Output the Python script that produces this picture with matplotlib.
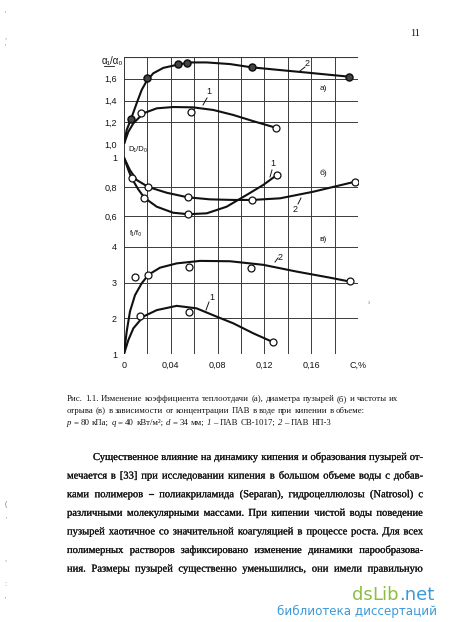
import matplotlib
matplotlib.use('Agg')
import matplotlib.pyplot as plt
from matplotlib.lines import Line2D
import matplotlib.patheffects as pe

W, H = 450, 622

# ---------------- data ----------------
x_ticks = [0, 0.04, 0.08, 0.12, 0.16, 0.20]
x_tick_labels = ['0', '0,04', '0,08', '0,12', '0,16', 'C,%']

a_ticks = [1.0, 1.2, 1.4, 1.6]
a_tick_labels = ['1,0', '1,2', '1,4', '1,6']
b_ticks = [1.0, 0.8, 0.6]
b_tick_labels = ['1', '0,8', '0,6']
c_ticks = [1, 2, 3, 4]
c_tick_labels = ['1', '2', '3', '4']

# panel a) alpha_i/alpha_0
a1_pts_c = [0.0145, 0.057, 0.1296]
a1_pts_v = [1.288, 1.297, 1.15]
a1_line_c = [0, 0.0037, 0.008, 0.0165, 0.028, 0.042, 0.059, 0.0763, 0.0934, 0.1105, 0.1296]
a1_line_v = [1.0, 1.113, 1.19, 1.282, 1.328, 1.34, 1.337, 1.313, 1.267, 1.21, 1.15]

a2_pts_c = [0.006, 0.0194, 0.0459, 0.054, 0.109, 0.1926]
a2_pts_v = [1.23, 1.604, 1.733, 1.742, 1.705, 1.619]
a2_line_c = [0, 0.0023, 0.006, 0.0108, 0.0151, 0.0194, 0.025, 0.0336, 0.046, 0.0564,
             0.0707, 0.0906, 0.109, 0.1333, 0.156, 0.176, 0.1926]
a2_line_v = [1.0, 1.129, 1.23, 1.374, 1.497, 1.58, 1.65, 1.70, 1.73, 1.75,
             1.75, 1.735, 1.705, 1.68, 1.657, 1.636, 1.619]

# panel б) D_i/D_0
b1_pts_c = [0.0066, 0.0174, 0.055, 0.1305]
b1_pts_v = [0.859, 0.727, 0.616, 0.882]
b1_line_c = [0, 0.0037, 0.0066, 0.0122, 0.0174, 0.028, 0.042, 0.055, 0.0707, 0.0877,
             0.1048, 0.119, 0.1295]
b1_line_v = [1.0, 0.916, 0.859, 0.784, 0.727, 0.666, 0.625, 0.615, 0.621, 0.666,
             0.746, 0.814, 0.875]

b2_pts_c = [0.0208, 0.0544, 0.1097, 0.1974]
b2_pts_v = [0.798, 0.730, 0.712, 0.836]
b2_line_c = [0, 0.005, 0.0108, 0.0208, 0.0365, 0.0544, 0.0735, 0.0934, 0.1097, 0.1333,
             0.1618, 0.1974]
b2_line_v = [1.0, 0.916, 0.848, 0.80, 0.761, 0.730, 0.716, 0.712, 0.712, 0.723,
             0.768, 0.836]

# panel в) f_i/f_0
c1_pts_c = [0.0137, 0.0558, 0.1276]
c1_pts_v = [2.07, 2.17, 1.33]
c1_line_c = [0, 0.0037, 0.008, 0.0165, 0.028, 0.045, 0.062, 0.079, 0.0934, 0.1105, 0.1276]
c1_line_v = [1.0, 1.39, 1.72, 2.05, 2.23, 2.35, 2.28, 2.05, 1.86, 1.58, 1.33]

c2_pts_c = [0.0094, 0.0208, 0.0558, 0.1085, 0.193]
c2_pts_v = [3.15, 3.22, 3.45, 3.42, 3.05]
c2_line_c = [0, 0.0023, 0.0051, 0.0094, 0.0151, 0.0208, 0.0308, 0.045, 0.065, 0.0906,
             0.119, 0.1476, 0.176, 0.193]
c2_line_v = [1.0, 1.63, 2.19, 2.65, 2.98, 3.22, 3.42, 3.54, 3.61, 3.60,
             3.50, 3.31, 3.14, 3.03]

caption_lines = [
    "Рис. 1.1. Изменение коэффициента теплоотдачи (а), диаметра пузырей (б) и частоты их",
    "отрыва (в) в зависимости от концентрации ПАВ в воде при кипении в объеме:",
]
caption_line3 = [("p", 'italic'), ("=", 'normal'), ("80", 'normal'), ("кПа;", 'normal'),
                 ("q", 'italic'), ("=", 'normal'), ("40", 'normal'), ("кВт/м²;", 'normal'),
                 ("d", 'italic'), ("=", 'normal'), ("34", 'normal'), ("мм;", 'normal'),
                 ("1", 'italic'), ("–", 'normal'), ("ПАВ", 'normal'), ("СВ-1017;", 'normal'),
                 ("2", 'italic'), ("–", 'normal'), ("ПАВ", 'normal'), ("НП-3", 'normal')]

body_lines = [
    "Существенное влияние на динамику кипения и образования пузырей от-",
    "мечается в [33] при исследовании кипения в большом объеме воды с добав-",
    "ками полимеров – полиакриламида (Separan), гидроцеллюлозы (Natrosol) с",
    "различными молекулярными массами. При кипении чистой воды поведение",
    "пузырей хаотичное со значительной коагуляцией в процессе роста. Для всех",
    "полимерных растворов зафиксировано изменение динамики парообразова-",
    "ния. Размеры пузырей существенно уменьшились, они имели правильную",
]

# ---------------- figure ----------------
fig = plt.figure(figsize=(W / 100, H / 100), dpi=100)
fig.patch.set_facecolor('white')
renderer = fig.canvas.get_renderer()

SANS = ['Liberation Sans', 'DejaVu Sans']
SERIF = ['Liberation Serif', 'DejaVu Serif']
INK = '#141414'
GRID = '#3a3a3a'
SCAN = [pe.withStroke(linewidth=0.15, foreground=INK)]


def P(x, y):
    return (x / W, 1 - y / H)


def rect(x0, y0, x1, y1):
    return [x0 / W, 1 - y1 / H, (x1 - x0) / W, (y1 - y0) / H]


X0, X1 = 124, 358
ax_a = fig.add_axes(rect(X0, 57, X1, 144))
ax_b = fig.add_axes(rect(X0, 144, X1, 232))
ax_c = fig.add_axes(rect(X0, 232, X1, 354))
ax_a.set_ylim(1.0, 1.8)
ax_b.set_ylim(0.494, 1.0925)
ax_c.set_ylim(1.0, 4.42)

for ax in (ax_a, ax_b, ax_c):
    ax.set_xlim(0, 0.20)
    ax.patch.set_alpha(0)
    for s in ax.spines.values():
        s.set_visible(False)
    ax.tick_params(length=0, labelsize=6.5, pad=5, colors=INK)
    for xv in [0.02 * i for i in range(1, 11)]:
        ax.axvline(xv, color=GRID, lw=0.7, zorder=1)
    ax.axvline(0, color=INK, lw=1.2, zorder=1)
    ax.set_xticks([])

ax_a.axhline(1.8, color=GRID, lw=0.8)
for yv in a_ticks:
    ax_a.axhline(yv, color=GRID, lw=0.7, zorder=1)
for yv in [0.8, 0.6]:
    ax_b.axhline(yv, color=GRID, lw=0.7, zorder=1)
for yv in c_ticks:
    ax_c.axhline(yv, color=GRID, lw=0.7, zorder=1)

ax_a.set_yticks(a_ticks, a_tick_labels, family=SANS)
ax_b.set_yticks(b_ticks, b_tick_labels, family=SANS)
ax_c.set_yticks(c_ticks, c_tick_labels, family=SANS)
ax_c.set_xticks(x_ticks, x_tick_labels, family=SANS)
ax_c.tick_params(axis='x', length=0, labelsize=6.5, pad=5)

line_kw = dict(color='#111111', lw=1.5, zorder=3, solid_capstyle='round', solid_joinstyle='round')
open_kw = dict(ls='none', marker='o', ms=5, mfc='white', mec='#111111', mew=0.9, zorder=4)
dark_kw = dict(ls='none', marker='o', ms=5, mfc='#444444', mec='#111111', mew=1.1, zorder=4)

ax_a.plot(a1_line_c, a1_line_v, **line_kw)
ax_a.plot(a2_line_c, a2_line_v, **line_kw)
ax_a.plot(a1_pts_c, a1_pts_v, **open_kw)
ax_a.plot(a2_pts_c, a2_pts_v, **dark_kw)

ax_b.plot(b1_line_c, b1_line_v, **line_kw)
ax_b.plot(b2_line_c, b2_line_v, **line_kw)
ax_b.plot(b1_pts_c, b1_pts_v, **open_kw)
ax_b.plot(b2_pts_c, b2_pts_v, **open_kw)

ax_c.plot(c1_line_c, c1_line_v, **line_kw)
ax_c.plot(c2_line_c, c2_line_v, **line_kw)
ax_c.plot(c1_pts_c, c1_pts_v, **open_kw)
ax_c.plot(c2_pts_c, c2_pts_v, **open_kw)


def ftext(x, y, s, **kw):
    kw.setdefault('transform', fig.transFigure)
    return fig.text(*P(x, y), s, **kw)


def fline(x0, y0, x1, y1, lw=0.7):
    fig.add_artist(Line2D([x0 / W, x1 / W], [1 - y0 / H, 1 - y1 / H],
                          transform=fig.transFigure, color=INK, lw=lw))


# chart labels
ftext(112, 61, 'α₁/α₀', family=SANS, fontsize=7, ha='center', va='center', color=INK)
fline(104, 66, 114, 66, lw=0.6)
ftext(128, 150, 'D₁/D₀', family=SANS, fontsize=5.5, ha='left', va='center', color=INK)
ftext(130, 234, 'f₁/f₀', family=SANS, fontsize=5.5, ha='left', va='center', color=INK)
ftext(323, 89, 'а)', family=SANS, fontsize=6, ha='center', va='center', color=INK)
ftext(323, 173, 'б)', family=SANS, fontsize=6, ha='center', va='center', color=INK)
ftext(323, 240, 'в)', family=SANS, fontsize=6, ha='center', va='center', color=INK)

ftext(307, 64, '2', family=SANS, fontsize=6.5, ha='center', va='center', color=INK)
fline(300, 71, 305, 67)
ftext(209, 92, '1', family=SANS, fontsize=6.5, ha='center', va='center', color=INK)
fline(203, 105, 207, 98)
ftext(273, 164, '1', family=SANS, fontsize=6.5, ha='center', va='center', color=INK)
fline(270, 177, 272, 170)
ftext(295, 209, '2', family=SANS, fontsize=6.5, ha='center', va='center', color=INK)
fline(298, 204, 301, 198)
ftext(280, 257, '2', family=SANS, fontsize=6.5, ha='center', va='center', color=INK)
fline(275, 262, 278, 258)
ftext(212, 297, '1', family=SANS, fontsize=6.5, ha='center', va='center', color=INK)
fline(206, 310, 209, 302)

# page number
ftext(415, 33, '11', family=SERIF, fontsize=7.5, ha='center', va='center', color=INK)

# scan specks along the left edge and right of chart
for (sx, sy, ch) in [(5, 14, "'"), (5, 38, ","), (5, 47, "'"), (369, 303, "›"),
                     (6, 505, "("), (6, 520, "'"), (5, 560, ","), (5, 585, ":"), (5, 600, "'")]:
    ftext(sx, sy, ch, family=SANS, fontsize=5, color='#777777', ha='center', va='center')


# ---------------- text helpers ----------------
def width_of(s, size, style='normal'):
    t = fig.text(0, 0, s, fontsize=size, family=SERIF, style=style)
    w = t.get_window_extent(renderer=renderer).width
    t.remove()
    return w


def place_tokens(tokens, x0, y, size, x1=None, space=None, effects=None):
    widths = [width_of(s, size, st) for s, st in tokens]
    if space is None:
        space = size * 100 / 72 * 0.25
    if x1 is not None and len(tokens) > 1:
        space = (x1 - x0 - sum(widths)) / (len(tokens) - 1)
    x = x0
    for (s, st), w in zip(tokens, widths):
        ftext(x, y, s, family=SERIF, style=st, fontsize=size, ha='left',
              va='baseline', color=INK, path_effects=effects)
        x += w + space


# caption (left aligned, starts at the text margin)
CAP_X0, CAP_X1 = 67, 397
cap_words = caption_lines[0].split()
cap_w10 = sum(width_of(w, 10) for w in cap_words)
cap_gap = 2.3
cap_size = min(6.6, 10 * (CAP_X1 - CAP_X0 - (len(cap_words) - 1) * cap_gap) / cap_w10)
place_tokens([(w, 'normal') for w in cap_words], CAP_X0, 401, cap_size, space=cap_gap)
place_tokens([(w, 'normal') for w in caption_lines[1].split()], CAP_X0, 413, cap_size,
             space=cap_gap)
place_tokens(caption_line3, CAP_X0, 425, cap_size, space=cap_gap)

# body (justified)
BODY_X0, BODY_X1, INDENT = 67, 423, 26
sizes = []
for i, line in enumerate(body_lines):
    words = line.split()
    x0 = BODY_X0 + (INDENT if i == 0 else 0)
    w10 = sum(width_of(w, 10) for w in words)
    sizes.append(10 * (BODY_X1 - x0 - (len(words) - 1) * 2.6) / w10)
body_size = min(7.6, min(sizes))
body_y = [460, 478.6, 497.2, 515.8, 534.4, 553, 571.6]
for i, (line, yb) in enumerate(zip(body_lines, body_y)):
    x0 = BODY_X0 + (INDENT if i == 0 else 0)
    place_tokens([(w, 'normal') for w in line.split()], x0, yb, body_size, x1=BODY_X1,
                 effects=SCAN)

# watermark
fs_wm = 13
t1 = ftext(352, 600, 'ds', family=['DejaVu Sans'], fontsize=fs_wm, color='#8cbf3f',
           ha='left', va='baseline')
w1 = t1.get_window_extent(renderer=renderer).width
t2 = ftext(352 + w1, 600, 'Lib', family=['DejaVu Sans'], fontsize=fs_wm, color='#8cbf3f',
           ha='left', va='baseline')
w2 = t2.get_window_extent(renderer=renderer).width
ftext(352 + w1 + w2, 600, '.net', family=['DejaVu Sans'], fontsize=fs_wm, color='#3a9ad9',
      ha='left', va='baseline')
ftext(437, 611, 'библиотека диссертаций', family=['DejaVu Sans'], fontsize=8.6,
      color='#3a9ad9', ha='right', va='center')

fig.savefig('out.png', dpi=100, facecolor='white')
